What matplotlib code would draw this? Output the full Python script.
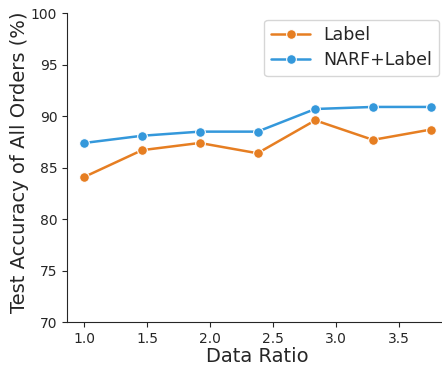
import matplotlib
matplotlib.use("Agg")
import matplotlib.pyplot as plt
import seaborn as sns

# data
data_ratio = [1.0, 1.4583, 1.9167, 2.375, 2.8333, 3.2917, 3.75]
label_acc = [84.1, 86.7, 87.4, 86.4, 89.6, 87.7, 88.7]
narf_label_acc = [87.4, 88.1, 88.5, 88.5, 90.7, 90.9, 90.9]
series_names = ["Label", "NARF+Label"]

sns.set_style("ticks")
plt.rcParams['font.family'] = ['DejaVu Sans']

fig = plt.figure(figsize=(4.42, 3.69), dpi=100)
ax = fig.add_axes([67/442, 47/369, 381/442, 308.7/369])

ax.plot(data_ratio, label_acc, color="#e67e22", lw=1.8, marker="o", ms=7,
        mec="white", mew=0.8, label=series_names[0])
ax.plot(data_ratio, narf_label_acc, color="#3498db", lw=1.8, marker="o", ms=7,
        mec="white", mew=0.8, label=series_names[1])

ax.set_ylim(70, 100)
ax.set_xlim(0.8625, 3.8875)
ax.set_xticks([1.0, 1.5, 2.0, 2.5, 3.0, 3.5])
ax.set_yticks([70, 75, 80, 85, 90, 95, 100])
ax.tick_params(labelsize=10, colors="#262626")
ax.set_xlabel("Data Ratio", fontsize=14, color="#262626", labelpad=1)
ax.set_ylabel("Test Accuracy of All Orders (%)", fontsize=14, color="#262626")
ax.yaxis.set_label_coords(-0.10, 0.517)
sns.despine(ax=ax)

leg = ax.legend(loc="upper right", bbox_to_anchor=(1.0, 1.008), fontsize=12.5,
                frameon=True, handlelength=2.2, labelspacing=0.4)

fig.savefig("out.png", dpi=100)
